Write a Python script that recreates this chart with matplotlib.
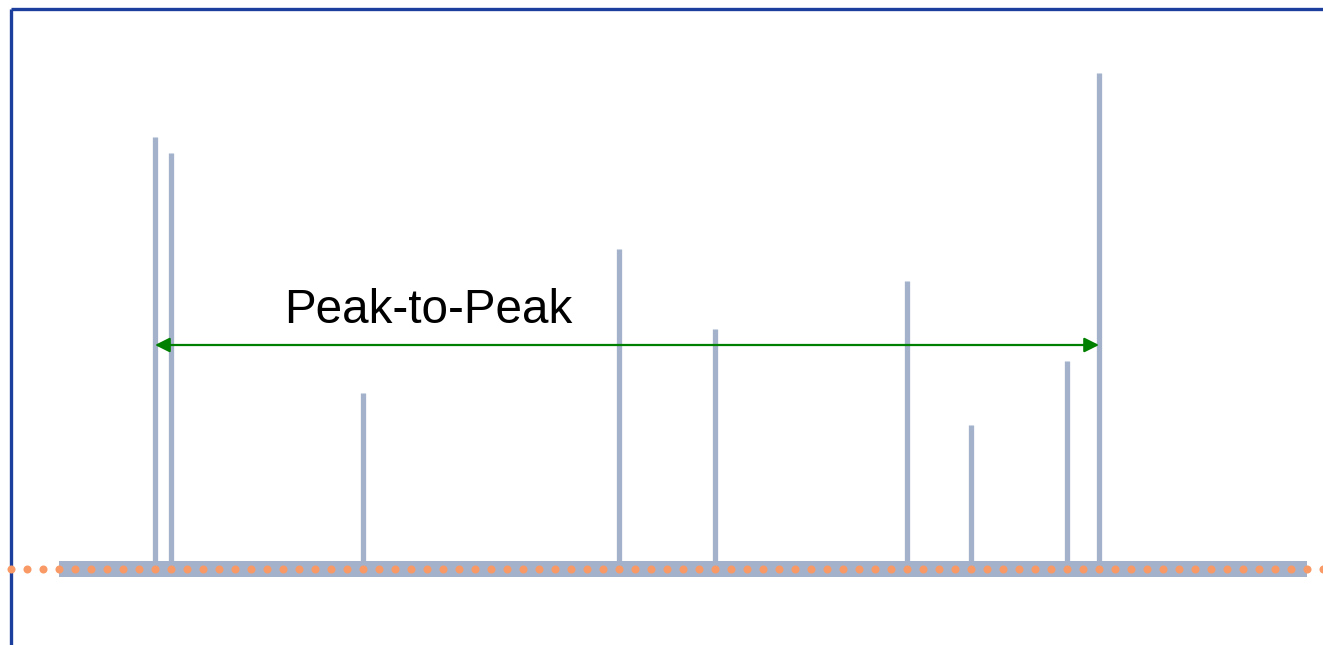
import matplotlib
matplotlib.use("Agg")
import matplotlib.pyplot as plt
import numpy as np

# Sample grid: one unit = one dot spacing
spike_pos = [9, 10, 22, 38, 44, 56, 60, 66, 68]
spike_height = [27, 26, 11, 20, 15, 18, 9, 13, 31]
band_start, band_end = 3, 81
dot_positions = np.arange(0, 83)
arrow_from, arrow_to, arrow_level = 9, 68, 14
label = "Peak-to-Peak"

grey = "#a3b1ca"
orange = "#f99a66"
frame_blue = "#1c3f9e"

fig = plt.figure(figsize=(13.23, 6.45), dpi=100)
ax = fig.add_axes([0, 0, 1, 1])
ax.set_xlim(-0.6875, 82)
ax.set_ylim(-4.75, 35.5625)
ax.axis("off")

# frame (top and left only)
ax.plot([0, 0], [-4.75, 35], color=frame_blue, lw=2.4, solid_capstyle="butt")
ax.plot([0, 82], [35, 35], color=frame_blue, lw=2.4, solid_capstyle="butt")

# thick baseline band
ax.fill_between([band_start, band_end], -0.5, 0.5, color=grey, lw=0, zorder=1)

# dotted zero line
ax.plot(dot_positions, np.zeros(len(dot_positions)), "o", color=orange,
        ms=5.8, mew=0, zorder=2)

# spikes
ax.vlines(spike_pos, 0.5, spike_height, color=grey, lw=3.8, zorder=3)

# peak-to-peak arrow
ax.annotate("", xy=(arrow_to, arrow_level), xytext=(arrow_from, arrow_level),
            arrowprops=dict(arrowstyle="<|-|>", color="#008000", lw=1.6,
                            mutation_scale=22, shrinkA=0, shrinkB=0),
            zorder=4)
ax.text(26.1, 15.4, label, ha="center", va="baseline", fontsize=34.3,
        family="Liberation Sans", color="black")

fig.savefig("out.png", dpi=100)
